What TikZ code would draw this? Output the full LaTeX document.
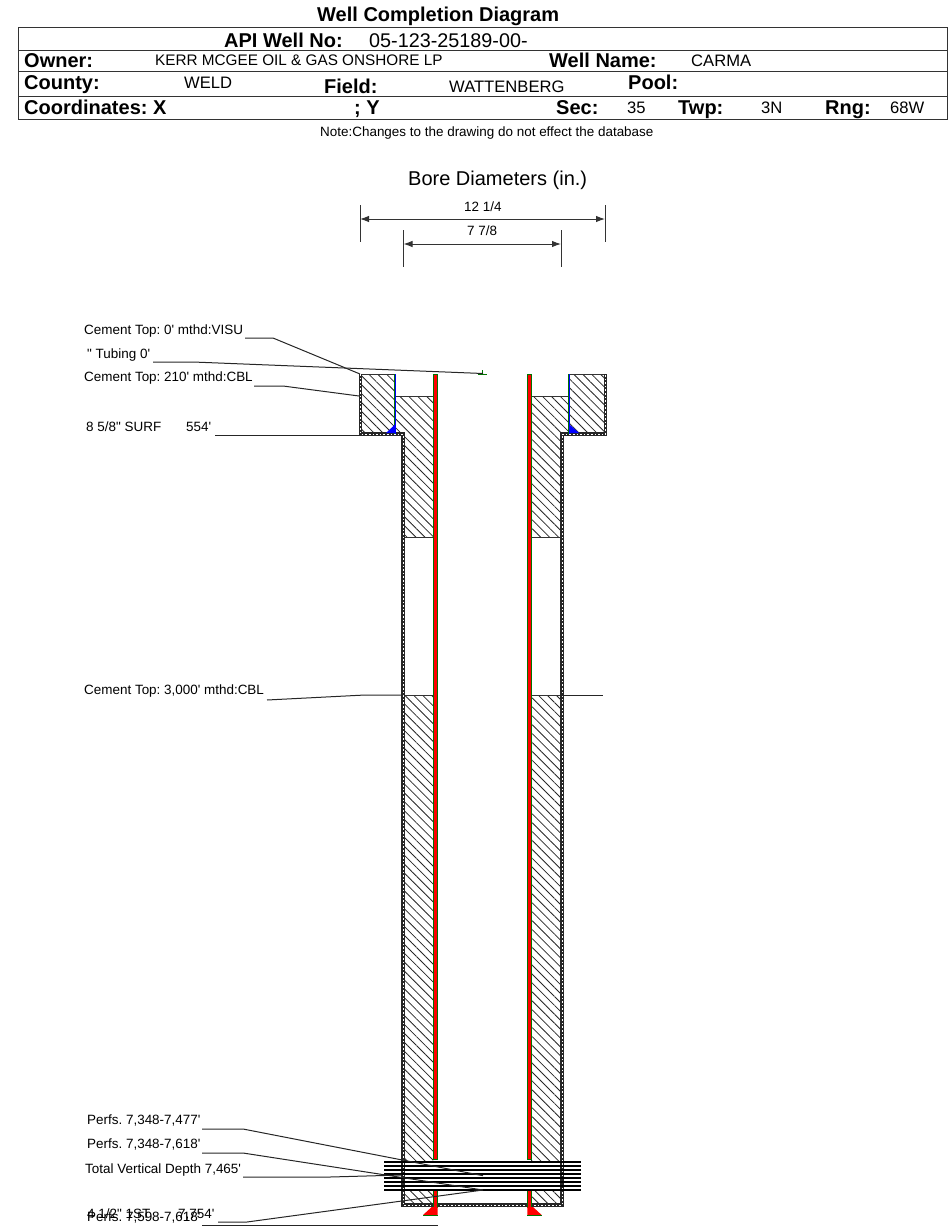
\documentclass[tikz,border=0pt]{standalone}
\usepackage{fontspec}
\setmainfont{Liberation Sans}[Ligatures=TeXOff]
\usetikzlibrary{arrows.meta,patterns.meta}
\tikzset{
  hdr/.style={anchor=base west,inner sep=0pt,font=\fontsize{20}{20}\selectfont\bfseries},
  val/.style={anchor=base west,inner sep=0pt,font=\fontsize{16.6}{17}\selectfont},
  lbl/.style={anchor=base west,inner sep=0pt,font=\fontsize{13.45}{14}\selectfont},
  leader/.style={line width=1pt,black!85},
  cement/.style={pattern={Lines[angle=-45,distance=6.3pt,line width=0.8pt]},pattern color=black!85},
  casing/.style={line width=3.6pt,black!85,line join=miter,postaction={draw,white,line width=1pt,dash pattern=on 1.6pt off 2pt}},
  tube/.style={fill=red,draw=green!45!black,line width=0.5pt},
  perf/.style={line width=1.8pt,black},
  dim/.style={line width=1pt,black!80},
  dimarr/.style={dim,{Latex[length=9pt,width=6.5pt]}-{Latex[length=9pt,width=6.5pt]}},
}
\begin{document}
\frenchspacing
\begin{tikzpicture}[x=1pt,y=-1pt]
\useasboundingbox (0,0) rectangle (948,1226);
% header
\node[hdr] (title) at (317,21) {Well Completion Diagram};
\draw[line width=1pt,black!80] (18,27) rectangle (947,119);
\draw[line width=1pt,black!80] (18,50.5) -- (947,50.5);
\draw[line width=1pt,black!80] (18,71) -- (947,71);
\draw[line width=1pt,black!80] (18,96.5) -- (947,96.5);
\node[hdr] (apilbl) at (224,47) {API Well No:};
\node[val,font=\fontsize{19.8}{20}\selectfont] (apival) at (369,47) {05-123-25189-00-};
\node[hdr] (ownerlbl) at (24,67) {Owner:};
\node[val,font=\fontsize{15.3}{16}\selectfont] (ownerval) at (155,65) {KERR MCGEE OIL \& GAS ONSHORE LP};
\node[hdr] (namelbl) at (549,67) {Well Name:};
\node[val] (nameval) at (691,66) {CARMA};
\node[hdr] (countylbl) at (24,89) {County:};
\node[val] (countyval) at (184,88) {WELD};
\node[hdr] (fieldlbl) at (324,93) {Field:};
\node[val] (fieldval) at (449,92) {WATTENBERG};
\node[hdr] (poollbl) at (628,89) {Pool:};
\node[hdr] (coordlbl) at (24,114) {Coordinates: X};
\node[hdr] (ylbl) at (354,114) {; Y};
\node[hdr] (seclbl) at (556,114) {Sec:};
\node[val] (secval) at (627,113) {35};
\node[hdr] (twplbl) at (678,114) {Twp:};
\node[val] (twpval) at (761,113) {3N};
\node[hdr] (rnglbl) at (825,114) {Rng:};
\node[val] (rngval) at (890,113) {68W};
\node[lbl] (note) at (320,136) {Note:Changes to the drawing do not effect the database};
% bore diameters
\node[val,font=\fontsize{20}{20}\selectfont] (boretitle) at (408,185) {Bore Diameters (in.)};
\coordinate (tickAa) at (360,205);
\coordinate (tickAb) at (360,242);
\coordinate (tickBa) at (605,205);
\coordinate (tickBb) at (605,242);
\coordinate (tickCa) at (403.5,230);
\coordinate (tickCb) at (403.5,267);
\coordinate (tickDa) at (561,230);
\coordinate (tickDb) at (561,267);
\draw[dim] (tickAa) -- (tickAb);
\draw[dim] (tickBa) -- (tickBb);
\draw[dim] (tickCa) -- (tickCb);
\draw[dim] (tickDa) -- (tickDb);
\draw[dimarr] (360,219) -- (605,219);
\draw[dimarr] (403.5,244) -- (561,244);
\node[lbl] (boreA) at (464,211) {12 1/4};
\node[lbl] (boreB) at (467,235) {7 7/8};
% cement
\fill[cement] (361,375) rectangle (395,433);
\fill[cement] (570,375) rectangle (605,433);
\fill[cement] (396,396) -- (433,396) -- (433,537) -- (403,537) -- (403,434) -- (396,434) -- cycle;
\fill[cement] (531,396) -- (568,396) -- (568,434) -- (561,434) -- (561,537) -- (531,537) -- cycle;
\fill[cement] (403,695) rectangle (433,1160);
\fill[cement] (531,695) rectangle (561,1160);
\fill[cement] (403,1190) rectangle (433,1204);
\fill[cement] (531,1190) rectangle (561,1204);
\draw[dim] (396,396) -- (433,396);
\draw[dim] (531,396) -- (568,396);
\draw[dim] (403,537) -- (433,537);
\draw[dim] (531,537) -- (561,537);
\draw[dim] (403,695) -- (433,695);
\draw[dim] (531,695) -- (561,695);
\draw[dim] (360,374) -- (395,374);
\draw[dim] (569,374) -- (606,374);
% casing
\draw[casing] (360.5,374) -- (360.5,434) -- (403,434) -- (403,1205) -- (562,1205) -- (562,434) -- (605.5,434) -- (605.5,374);
\draw[line width=2pt,green!45!black] (395,374) -- (395,434);
\draw[line width=2pt,green!45!black] (569,374) -- (569,434);
\draw[line width=0.7pt,blue] (395,374) -- (395,434);
\draw[line width=0.7pt,blue] (569,374) -- (569,434);
\fill[blue] (386,433) -- (395.5,433) -- (395.5,424) -- cycle;
\fill[blue] (569,424) -- (569,433) -- (579,433) -- cycle;
% tubing
\draw[tube] (433.3,374) rectangle (437.7,1159);
\draw[tube] (527.3,374) rectangle (531.7,1159);
\draw[tube] (433.3,1190) rectangle (437.7,1207);
\draw[tube] (527.3,1190) rectangle (531.7,1207);
\fill[red] (431.7,1207) -- (437.7,1207) -- (437.7,1215) -- (423,1215) -- cycle;
\fill[red] (527.3,1207) -- (533,1207) -- (541.7,1215) -- (527.3,1215) -- cycle;
\draw[green!45!black,line width=0.7pt] (423,1215) -- (437.7,1215);
\draw[green!45!black,line width=0.7pt] (527.3,1215) -- (541.7,1215);
\draw[green!45!black,line width=0.7pt] (478,374) -- (487,374);
\draw[green!45!black,line width=0.7pt] (482,370) -- (482,374);
% perfs
\foreach \y in {1161.7,1165.7,...,1190}
  \draw[perf] (384,\y) -- (581,\y);
% labels and leaders
\node[lbl] (visu) at (84,334) {Cement Top: 0' mthd:VISU};
\node[lbl] (tubing) at (87,358) {" Tubing 0'};
\node[lbl] (cbltop) at (84,381) {Cement Top: 210' mthd:CBL};
\node[lbl] (surf) at (86,431) {8 5/8" SURF};
\node[lbl] (surfd) at (186,431) {554'};
\node[lbl] (cmtmid) at (84,694) {Cement Top: 3,000' mthd:CBL};
\node[lbl] (perfA) at (87,1124) {Perfs. 7,348-7,477'};
\node[lbl] (perfB) at (87,1148) {Perfs. 7,348-7,618'};
\node[lbl] (tvd) at (85,1173) {Total Vertical Depth 7,465'};
\node[lbl] (prod) at (87,1218) {4 1/2" 1ST};
\node[lbl] (prodd) at (178,1218) {7,754'};
\node[lbl] (perfC) at (87,1221) {Perfs. 7,598-7,618'};
\coordinate (visuA) at (245,338);
\coordinate (visuB) at (273,338);
\coordinate (visuC) at (360,374);
\coordinate (tubA) at (153,362);
\coordinate (tubB) at (193,362);
\coordinate (tubC) at (483,373.5);
\coordinate (cblA) at (254,386);
\coordinate (cblB) at (283,386);
\coordinate (cblC) at (359,396);
\coordinate (surfA) at (215,435);
\coordinate (surfB) at (360,435);
\coordinate (midA) at (267,700);
\coordinate (midB) at (365,695);
\coordinate (midC) at (403,695);
\coordinate (midD) at (562,695);
\coordinate (midE) at (603,695);
\coordinate (prfA) at (202,1129);
\coordinate (prfAb) at (243,1129);
\coordinate (prfAc) at (483,1175.7);
\coordinate (prfB) at (202,1153);
\coordinate (prfBb) at (243,1153);
\coordinate (prfBc) at (483,1190);
\coordinate (tvdA) at (243,1177);
\coordinate (tvdB) at (330,1177);
\coordinate (tvdC) at (402,1175);
\coordinate (prodA) at (218,1222);
\coordinate (prodB) at (247,1222);
\coordinate (prfC) at (202,1225);
\coordinate (prfCb) at (243,1225);
\coordinate (prfCc) at (437.7,1225);
\draw[leader] (visuA) -- (visuB) -- (visuC);
\draw[leader] (tubA) -- (tubB) -- (tubC);
\draw[leader] (cblA) -- (cblB) -- (cblC);
\draw[leader] (surfA) -- (surfB);
\draw[leader] (midA) -- (midB) -- (midC);
\draw[leader] (midD) -- (midE);
\draw[leader] (prfA) -- (prfAb) -- (prfAc);
\draw[leader] (prfB) -- (prfBb) -- (prfBc);
\draw[leader] (tvdA) -- (tvdB) -- (tvdC);
\draw[leader] (prodA) -- (prodB) -- (prfBc);
\draw[leader] (prfC) -- (prfCb) -- (prfCc);
\end{tikzpicture}
\end{document}
